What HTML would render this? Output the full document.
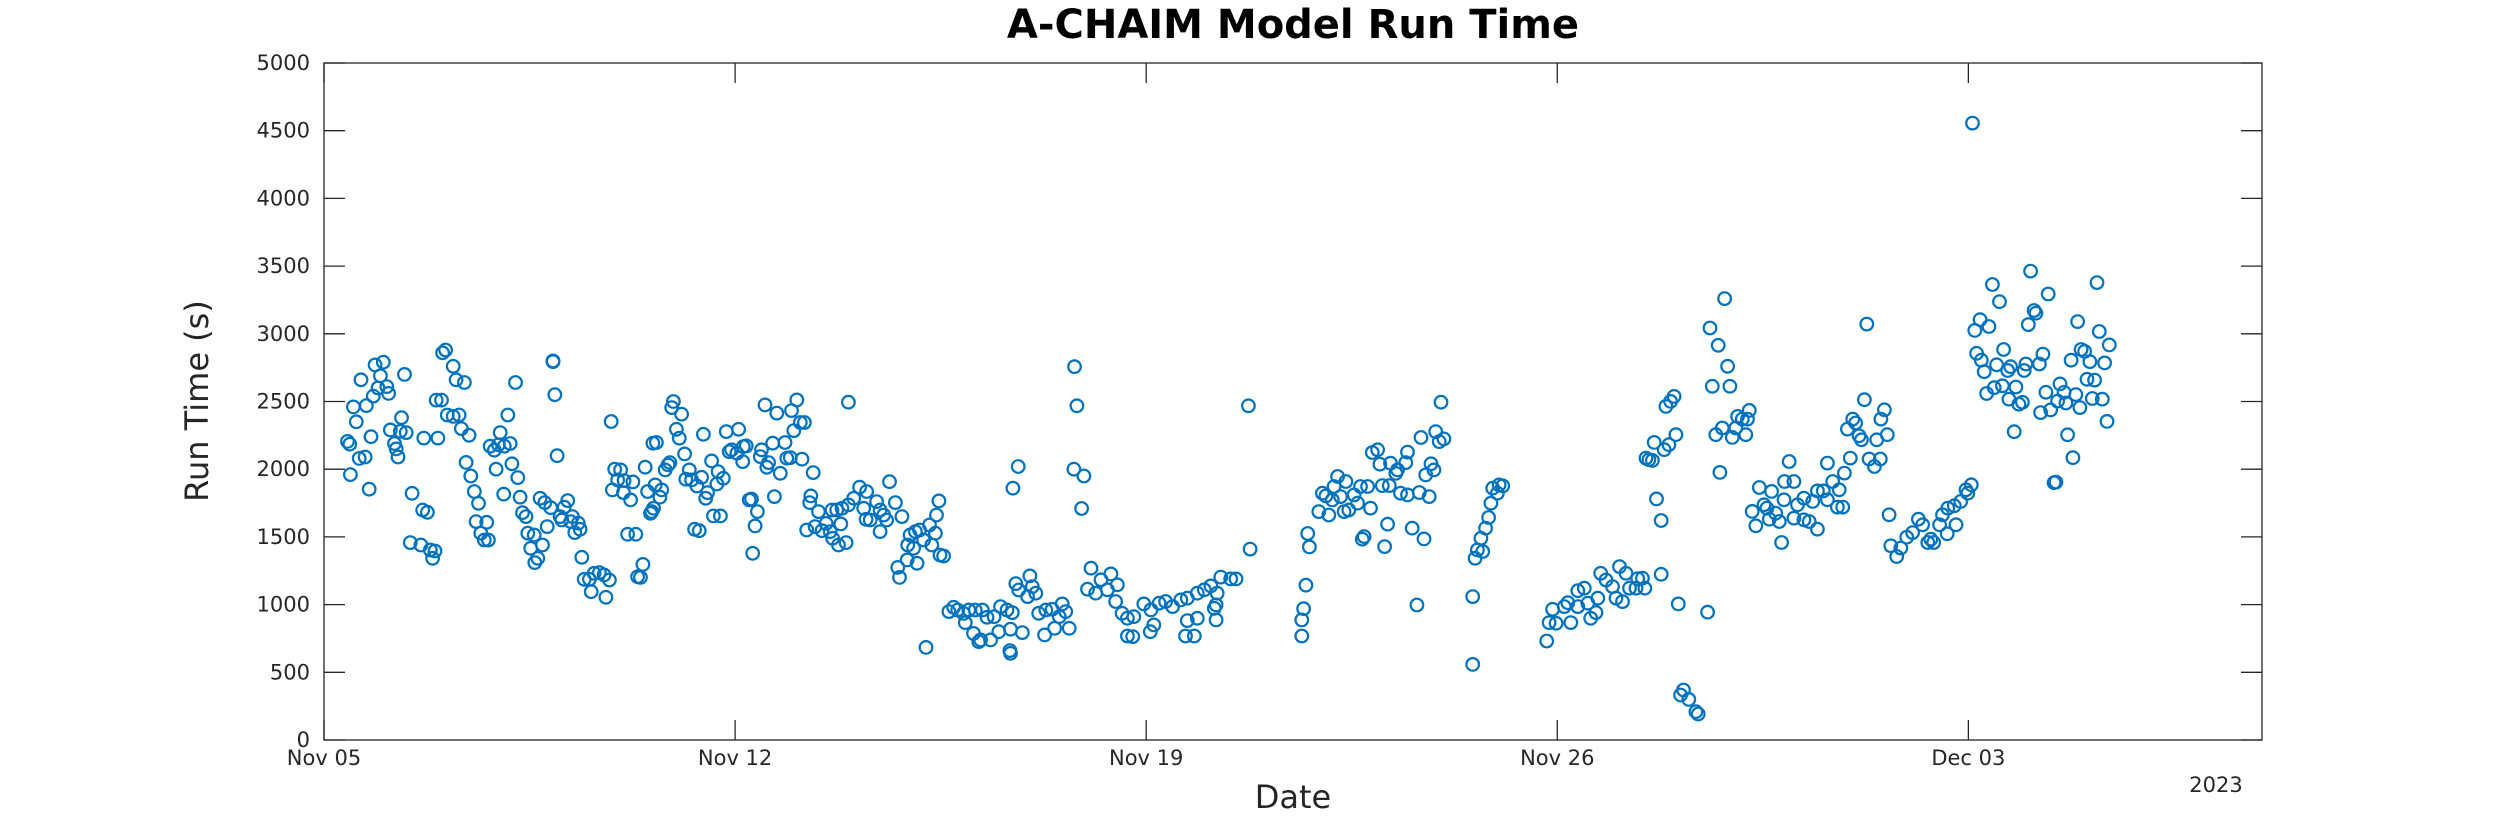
<!DOCTYPE html>
<html><head><meta charset="utf-8">
<style>
html,body{margin:0;padding:0;background:#fff;}
svg{display:block;font-family:"Liberation Sans","DejaVu Sans",sans-serif;}
</style></head>
<body>
<svg id="chart" width="2500" height="833" viewBox="0 0 2500 833" xmlns="http://www.w3.org/2000/svg">
<rect x="0" y="0" width="2500" height="833" fill="#fff"/>
<text x="1293" y="38" text-anchor="middle" font-size="40" font-weight="bold" fill="#000" font-family="DejaVu Sans, sans-serif">A-CHAIM Model Run Time</text>
<g id="axes"></g>
<g id="points"></g>
<text x="1293" y="808" text-anchor="middle" font-size="32" fill="#262626" font-family="DejaVu Sans, sans-serif">Date</text>
<text transform="translate(208,401) rotate(-90)" text-anchor="middle" font-size="32" fill="#262626" font-family="DejaVu Sans, sans-serif">Run Time (s)</text>
<text x="2216" y="792" text-anchor="middle" font-size="21" fill="#262626" font-family="DejaVu Sans, sans-serif">2023</text>
</svg>
<script>
// Days since Nov 05 2023
const dayOffsets = [
0.4,0.44,0.45,0.5,0.55,0.6,0.7,0.63,0.72,0.8,0.84,0.92,0.87,1.01,0.96,1.07,1.1,1.13,1.2,1.23,1.26,1.32,1.3,1.4,1.37,1.7,1.94,1.91,2.0,2.02,2.07,2.1,2.2,2.2,2.25,2.39,2.3,2.34,2.47,2.42,2.5,2.83,2.9,3.0,2.97,3.07,3.17,3.13,2.93,3.2,3.26,3.9,3.93,3.97,
0.77,1.5,1.68,1.76,1.47,1.65,1.81,1.89,1.85,2.56,2.63,2.59,2.77,2.67,2.73,2.8,3.06,3.3,3.34,3.38,3.44,3.47,3.58,3.52,3.64,3.59,3.72,3.68,3.76,3.86,3.8,4.09,4.15,4.02,4.05,4.23,4.2,4.27,4.36,4.33,4.39,
4.43,4.52,4.6,4.69,4.77,4.86,4.55,4.8,4.89,4.95,5.05,5.0,5.11,5.26,4.91,5.1,5.22,5.47,5.51,5.6,5.56,5.17,5.31,5.43,5.34,5.39,
5.95,5.92,6.09,6.0,6.05,5.66,6.14,5.81,5.86,5.89,5.64,5.75,5.72,5.58,5.61,6.22,6.16,6.26,6.35,6.43,6.53,6.5,6.6,6.71,6.8,6.69,
6.46,6.63,6.75,6.31,6.39,6.85,7.06,6.94,7.03,7.14,7.19,7.13,6.9,7.24,7.28,7.38,7.34,7.3,7.51,7.71,7.96,8.05,8.11,8.18,8.0,
7.45,7.43,7.57,7.54,7.64,7.77,7.85,7.88,7.94,8.14,7.67,8.33,8.93,9.63,3.9,12.78,
8.29,8.27,8.42,8.22,8.36,8.48,8.55,8.62,8.73,8.82,8.93,9.02,9.12,9.24,9.19,9.23,9.3,9.41,9.47,9.53,9.58,9.47,9.73,9.84,8.8,8.66,8.76,8.89,8.65,
9.98,10.07,10.14,10.21,10.31,10.41,10.35,10.43,10.47,9.94,10.04,10.49,10.55,9.93,10.1,9.77,9.8,10.25,
10.64,10.72,10.79,10.89,10.98,11.09,10.92,11.06,11.15,
12.82,11.82,11.73,12.77,12.94,12.9,15.77,15.74,
11.21,11.29,11.41,11.52,11.63,11.72,11.18,11.35,11.49,11.69,11.89,11.68,11.69,11.78,11.83,12.02,12.06,11.98,12.12,12.17,12.29,12.4,12.57,12.63,12.52,12.44,12.27,12.69,
13.06,13.23,13.4,13.51,13.0,13.14,13.34,13.48,13.59,13.68,13.77,13.68,13.79,13.96,14.08,14.13,14.07,14.22,14.33,14.45,14.59,14.7,14.87,14.99,15.1,15.27,15.44,15.53,15.21,15.19,15.16,15.19,14.7,14.87,14.67,14.82,
16.75,16.78,16.72,16.68,16.65,16.65,
16.94,17.0,17.06,17.11,17.17,17.26,17.4,17.2,17.31,17.37,17.45,17.54,17.6,17.65,17.77,17.82,
17.85,17.94,17.98,18.16,18.25,18.28,18.42,18.45,18.02,18.14,18.33,18.45,18.65,18.82,18.68,18.93,18.99,19.07,19.02,18.85,18.9,18.76,
17.71,17.68,18.11,18.06,18.53,18.73,18.61,19.56,19.56,
19.6,19.64,19.73,19.7,19.78,19.83,19.87,19.98,19.9,20.01,20.07,
20.82,20.86,20.98,20.92,21.12,21.23,21.18,21.35,21.35,21.46,21.57,21.66,21.52,21.69,21.74,21.83,21.94,22.06,22.17,22.11,22.0,22.23,22.34,22.37,
23.85,23.6,23.74,23.9,23.64,23.94,26.27,22.85,22.93,22.99,
22.65,22.51,22.56,22.62,22.82,22.9,23.02,23.7,23.81,23.98,24.04,24.07,24.15,24.21,24.27,24.24,
23.77,22.69,22.77,22.45,22.49,22.77,23.06,23.56,23.15,23.1,23.24,23.36,23.4,
24.44,24.65,24.87,25.03,24.95,24.32,24.38,24.52,24.57,24.72,24.78,24.61,24.86,24.82,25.09,25.2,25.03,25.2,25.29,25.43,25.35,25.43,25.53,25.6,25.69,25.77,25.86,25.8,25.6,25.89,25.99,
25.94,26.03,26.08,26.14,26.18,26.23,26.57,26.51,26.62,26.44,26.31,26.4,26.5,26.65,
26.68,26.78,26.85,26.95,27.05,27.15,27.22,27.31,27.41,27.36,27.51,27.56,27.65,27.76,27.79,27.64,27.87,27.96,28.05,27.99,
28.07,29.06,28.41,30.19,28.53,29.36,29.12,29.15,29.02,28.2,28.11,28.35,29.86,30.23,30.4,
28.14,28.22,28.27,28.48,28.6,28.72,28.67,28.95,28.98,29.21,29.27,29.75,29.92,29.98,30.07,30.32,
28.31,28.44,28.58,28.81,28.69,28.86,28.92,29.32,29.23,29.4,29.56,29.63,29.52,29.66,29.83,29.9,30.02,30.15,30.11,30.28,30.36,28.78,29.69,29.78,29.46,29.49
];
const runTimes = [
2205,2185,1960,2460,2350,2080,2090,2660,2470,2240,2540,2600,2770,2790,2690,2610,2560,2290,2190,2150,2090,2380,2280,2270,2700,2230,2230,2510,2510,2860,2880,2400,2390,2760,2660,2640,2400,2300,2250,2050,1950,2170,2140,2270,2180,2170,2190,2400,2000,2040,2640,2800,2550,2100,
1852,1822,1699,1682,1458,1440,1403,1396,1342,1835,1748,1613,1608,1527,1477,1477,1815,1938,1793,1679,1650,1527,1514,1416,1342,1310,1440,1785,1753,1716,1576,1719,1768,1650,1625,1650,1613,1532,1556,1601,1349,
1187,1187,1231,1236,1219,1182,1095,1054,2352,2000,1995,1921,1916,1906,1847,1827,1773,2015,1835,2192,1674,1519,1519,1297,1206,1201,
2500,2455,2406,2295,2229,2197,2113,1995,2032,2049,1884,1847,1793,1687,1711,1995,1926,1921,1876,1940,1827,1785,2061,1982,1933,1891,
2258,1655,1655,1556,1546,2278,2295,2143,2118,2167,2172,2056,2130,1773,1780,1687,1581,1379,2475,2414,2433,2512,2345,2345,2285,
2143,2093,2049,2014,2192,1970,2197,2081,2086,2074,1798,1975,2495,1908,2794,2757,
1803,1753,1687,1551,1576,1546,1600,1539,1699,1711,1736,1785,1867,1835,1711,1630,1625,1761,1699,1662,1625,1539,1753,1650,1596,1490,1440,1458,1699,
1514,1539,1551,1477,1588,1527,1440,1662,1766,1440,1416,1366,1359,1330,1305,1275,1201,684,
948,980,960,935,960,960,866,787,726,
2468,2020,1860,2000,1950,1710,1410,2468,
960,906,911,985,960,941,739,739,800,818,793,660,640,1155,1108,1212,1133,1059,1084,936,960,965,1005,948,911,825,776,825,
1269,1183,1227,1146,1114,1084,1109,1023,936,899,764,768,911,1005,961,850,800,1010,1023,985,1035,1047,1084,1109,1138,1203,1190,1190,1084,998,973,887,882,899,768,768,
1525,1426,1143,970,887,768,
1687,1823,1803,1662,1773,1946,1909,1872,1798,1687,1699,1810,1749,1872,1872,1712,
2123,2143,2037,2044,1970,1995,2049,2126,1879,1879,1823,1810,1828,1798,2234,2278,2204,2224,2495,2040,1995,1958,
1502,1483,1594,1428,1564,1485,997,1059,558,
1342,1404,1392,1490,1564,1643,1749,1823,1860,1884,1877,
731,867,862,965,985,867,1014,985,1103,1121,899,941,1010,1047,1231,1182,1133,1281,1231,1022,1047,1121,1121,1192,
3260,3043,2915,2760,2612,2612,3072,2464,2501,2538,
2198,2082,2070,2065,2144,2181,2255,2255,2304,2235,2304,2390,2370,2255,2434,2370,
1976,1781,1621,1195,1121,1224,1005,944,369,332,300,209,192,
1865,1836,1909,1909,2057,1688,1582,1737,1712,1675,1614,1631,1774,1459,1737,1786,1638,1626,1614,1557,1762,1840,1840,1774,1909,1720,1720,1848,2045,1971,2082,
2296,2370,2341,2247,2217,2513,2439,2370,2255,2217,2075,2020,2075,1663,
1434,1355,1417,1498,1532,1631,1589,1459,1459,1483,1589,1663,1712,1730,1589,1523,1762,1848,1885,1823,
4556,3463,3364,3378,3237,3294,3172,3152,3068,3104,3025,3054,3090,3017,2918,
2856,2805,2720,2771,2884,2757,2729,2729,2777,2777,2850,2805,2884,2870,2794,2785,
2559,2602,2616,2607,2517,2480,2494,2568,2418,2438,2630,2568,2503,2489,2551,2455,2664,2658,2522,2517,2353,2277,2254,2085,1900,1905
];
const yTicks = [0,500,1000,1500,2000,2500,3000,3500,4000,4500,5000];
const xTickDays = [0,7,14,21,28];
const xTickLabels = ["Nov 05","Nov 12","Nov 19","Nov 26","Dec 03"];
const xMaxDay = 33;
const yMax = 5000;

const NS = "http://www.w3.org/2000/svg";
const L = 324, R = 2262, T = 63, B = 740;
function xScale(d){ return L + d/xMaxDay*(R-L); }
function yScale(v){ return B - v/yMax*(B-T); }
function mk(tag, attrs, parent){ const e=document.createElementNS(NS,tag); for(const k in attrs) e.setAttribute(k,attrs[k]); parent.appendChild(e); return e; }

const axes = document.getElementById('axes');
const frame = mk('rect',{x:L,y:T,width:R-L,height:B-T,fill:'none',stroke:'#262626','stroke-width':1.3},axes);



yTicks.forEach(v=>{
  const y=yScale(v);
  const t1=mk('line',{x1:L,x2:L+21,y1:y,y2:y,stroke:'#262626','stroke-width':1.3},axes);
  
  
  const t2=mk('line',{x1:R-21,x2:R,y1:y,y2:y,stroke:'#262626','stroke-width':1.3},axes);
  
  
  const lb=mk('text',{x:L-14,y:y+7,'text-anchor':'end','font-size':21,fill:'#262626','font-family':'DejaVu Sans, sans-serif'},axes);
  lb.textContent=v;
  
  
});
xTickDays.forEach((d,i)=>{
  const x=xScale(d);
  const t1=mk('line',{x1:x,x2:x,y1:B,y2:B-20,stroke:'#262626','stroke-width':1.3},axes);
  
  
  const t2=mk('line',{x1:x,x2:x,y1:T,y2:T+20,stroke:'#262626','stroke-width':1.3},axes);
  
  
  const lb=mk('text',{x:x,y:B+25,'text-anchor':'middle','font-size':21,fill:'#262626','font-family':'DejaVu Sans, sans-serif'},axes);
  lb.textContent=xTickLabels[i];
  
  
});

const pts = document.getElementById('points');
dayOffsets.forEach((d,i)=>{
  const c=mk('circle',{cx:xScale(d).toFixed(1),cy:yScale(runTimes[i]).toFixed(1),r:6.3,fill:'none',stroke:'#0072BD','stroke-width':2.2},pts);
  
  
});
</script>
</body></html>
